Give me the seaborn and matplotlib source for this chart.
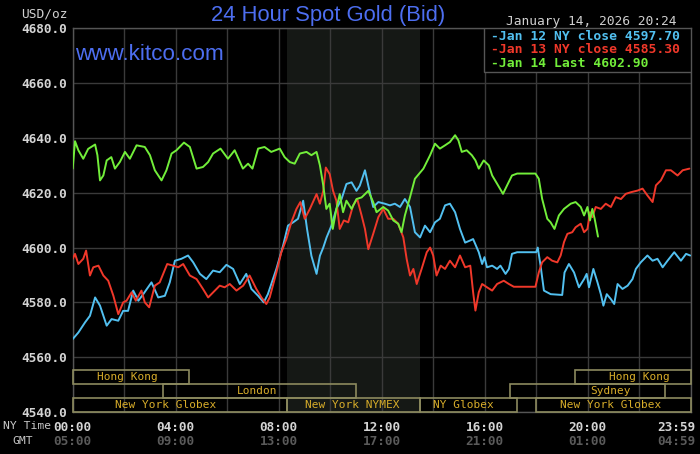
import numpy as np
import pandas as pd
import seaborn as sns
import matplotlib.pyplot as plt
import matplotlib.transforms as mtransforms
from matplotlib.patches import Rectangle

# Jan 12 NY close series (hours in NY time, price USD/oz)
jan12_hours = [0, 0.22, 0.48, 0.67, 0.87, 1.06, 1.32, 1.51, 1.77, 1.96, 2.15, 2.35, 2.55, 2.74,
               3.06, 3.32, 3.58, 3.77, 3.97, 4.22, 4.48, 4.68, 4.94, 5.19, 5.45, 5.71, 5.97, 6.23,
               6.49, 6.74, 6.94, 7.2, 7.42, 7.58, 7.91, 8.17, 8.36, 8.56, 8.75, 8.95, 9.1, 9.27,
               9.47, 9.6, 9.73, 9.86, 10.05, 10.24, 10.44, 10.63, 10.83, 11.02, 11.15, 11.35,
               11.48, 11.67, 11.87, 12.12, 12.32, 12.51, 12.71, 12.9, 13.1, 13.29, 13.49, 13.68,
               13.88, 14.07, 14.26, 14.46, 14.65, 14.85, 15.04, 15.24, 15.44, 15.55, 15.77, 15.9,
               15.99, 16.09, 16.29, 16.48, 16.61, 16.81, 16.94, 17.06, 17.26, 18.0, 18.06, 18.17,
               18.3, 18.56, 19.01, 19.1, 19.27, 19.47, 19.66, 19.86, 19.96, 20.05, 20.22, 20.38,
               20.51, 20.61, 20.74, 20.9, 21.03, 21.16, 21.35, 21.55, 21.74, 21.87, 22.06, 22.32,
               22.52, 22.71, 22.91, 23.1, 23.36, 23.62, 23.82, 23.98]
jan12_price = [4566.6, 4569.0, 4572.7, 4575.1, 4581.8, 4578.8, 4571.5, 4573.9, 4573.3, 4576.9,
               4576.9, 4584.3, 4580.6, 4583.0, 4587.3, 4581.8, 4582.4, 4587.3, 4595.2, 4595.9,
               4597.1, 4594.6, 4590.4, 4588.5, 4591.6, 4591.0, 4593.7, 4592.2, 4586.7, 4590.4,
               4584.9, 4582.4, 4580.0, 4583.0, 4592.2, 4600.7, 4608.0, 4609.2, 4610.5, 4617.1,
               4606.8, 4597.0, 4590.4, 4597.0, 4600.0, 4603.7, 4608.0, 4614.1, 4617.7, 4623.2,
               4623.8, 4620.7, 4622.6, 4628.2, 4622.6, 4614.8, 4616.6, 4616.0, 4615.4, 4616.0,
               4614.8, 4617.7, 4614.8, 4605.6, 4603.7, 4608.0, 4605.6, 4609.2, 4610.5, 4615.4,
               4616.0, 4612.9, 4606.8, 4601.8, 4602.6, 4603.1, 4598.3, 4594.0, 4596.5, 4592.8,
               4593.4, 4592.2, 4593.4, 4590.4, 4592.2, 4597.7, 4598.3, 4598.3, 4600.0, 4593.4,
               4584.3, 4583.0, 4582.7, 4590.9, 4594.0, 4590.9, 4585.5, 4588.5, 4590.4, 4585.5,
               4592.2, 4587.3, 4583.0, 4578.8, 4583.0, 4581.2, 4579.4, 4586.7, 4584.9, 4586.1,
               4588.5, 4592.2, 4594.6, 4597.1, 4595.2, 4595.9, 4592.8, 4595.2, 4598.3, 4595.2,
               4597.7, 4597.1]

# Jan 13 NY close series
jan13_hours = [0, 0.09, 0.22, 0.41, 0.52, 0.67, 0.8, 1.0, 1.19, 1.38, 1.58, 1.77, 1.96, 2.09,
               2.29, 2.45, 2.67, 2.8, 2.97, 3.19, 3.38, 3.67, 3.9, 4.1, 4.29, 4.55, 4.81, 5.06,
               5.26, 5.52, 5.71, 5.9, 6.1, 6.36, 6.62, 6.87, 7.13, 7.33, 7.52, 7.65, 7.91, 8.1,
               8.3, 8.49, 8.69, 8.84, 9.01, 9.21, 9.47, 9.6, 9.73, 9.83, 9.98, 10.11, 10.24,
               10.37, 10.53, 10.7, 10.89, 11.05, 11.22, 11.35, 11.48, 11.67, 11.87, 12.06, 12.25,
               12.45, 12.64, 12.84, 12.97, 13.1, 13.23, 13.36, 13.55, 13.75, 13.88, 14.0, 14.13,
               14.29, 14.46, 14.65, 14.85, 15.04, 15.24, 15.44, 15.55, 15.64, 15.77, 15.9, 16.09,
               16.29, 16.48, 16.74, 16.94, 17.13, 17.97, 18.1, 18.23, 18.43, 18.62, 18.82, 18.95,
               19.08, 19.21, 19.4, 19.53, 19.73, 19.86, 19.99, 20.09, 20.18, 20.31, 20.51, 20.7,
               20.9, 21.09, 21.29, 21.48, 21.68, 21.94, 22.13, 22.32, 22.52, 22.65, 22.84, 23.04,
               23.23, 23.49, 23.69, 23.95]
jan13_price = [4595.9, 4597.7, 4594.0, 4595.9, 4598.9, 4589.8, 4592.8, 4593.4, 4589.8, 4587.9,
               4582.4, 4575.7, 4580.0, 4580.6, 4583.7, 4580.6, 4584.3, 4580.0, 4578.2, 4586.1,
               4587.3, 4594.0, 4593.4, 4592.8, 4594.0, 4589.8, 4588.5, 4584.9, 4581.8, 4584.3,
               4586.1, 4585.5, 4586.7, 4584.3, 4586.1, 4589.8, 4584.9, 4581.8, 4579.4, 4581.8,
               4590.9, 4598.2, 4603.1, 4609.2, 4614.1, 4616.6, 4610.5, 4614.1, 4619.5, 4616.0,
               4620.7, 4629.2, 4626.8, 4620.7, 4617.1, 4606.8, 4609.9, 4609.2, 4615.4, 4617.7,
               4611.7, 4606.8, 4599.4, 4605.0, 4611.1, 4614.1, 4610.5, 4610.5, 4608.7, 4603.7,
               4595.8, 4589.8, 4592.2, 4586.7, 4592.2, 4598.3, 4600.0, 4597.1, 4589.8, 4593.4,
               4592.2, 4595.2, 4592.8, 4597.1, 4592.8, 4593.4, 4583.7, 4577.0, 4583.7, 4586.7,
               4585.5, 4584.3, 4586.7, 4587.9, 4586.7, 4585.7, 4585.7, 4590.9, 4594.6, 4596.5,
               4595.2, 4594.6, 4597.1, 4602.0, 4605.0, 4605.6, 4607.4, 4608.7, 4605.6, 4606.8,
               4612.9, 4611.1, 4614.8, 4614.1, 4616.0, 4614.8, 4618.4, 4617.7, 4619.6, 4620.2,
               4620.8, 4621.5, 4619.0, 4616.6, 4622.7, 4624.5, 4628.2, 4628.2, 4626.3, 4628.2,
               4628.8]

# Jan 14 live series
jan14_hours = [0, 0.09, 0.22, 0.41, 0.6, 0.87, 0.96, 1.06, 1.19, 1.32, 1.5, 1.64, 1.83, 2.03,
               2.22, 2.48, 2.8, 3.0, 3.19, 3.45, 3.64, 3.84, 4.03, 4.32, 4.55, 4.81, 5.06, 5.26,
               5.45, 5.74, 6.03, 6.29, 6.61, 6.81, 6.98, 7.2, 7.45, 7.71, 8.04, 8.23, 8.43, 8.62,
               8.82, 9.08, 9.27, 9.47, 9.6, 9.73, 9.85, 9.98, 10.1, 10.24, 10.37, 10.5, 10.63,
               10.83, 11.02, 11.22, 11.48, 11.67, 11.8, 12.06, 12.25, 12.45, 12.64, 12.77, 12.9,
               13.1, 13.29, 13.62, 13.88, 14.07, 14.26, 14.46, 14.65, 14.85, 14.98, 15.11, 15.3,
               15.5, 15.64, 15.77, 15.96, 16.16, 16.29, 16.48, 16.71, 16.87, 17.06, 17.26, 17.97,
               18.1, 18.23, 18.43, 18.56, 18.71, 18.88, 19.08, 19.34, 19.53, 19.73, 19.86, 19.99,
               20.09, 20.18, 20.27, 20.4]
jan14_price = [4628.8, 4638.8, 4635.5, 4632.4, 4636.0, 4637.6, 4633.7, 4624.5, 4626.3, 4631.8,
               4633.0, 4628.8, 4631.2, 4634.9, 4632.4, 4637.3, 4636.7, 4633.7, 4628.2, 4624.5,
               4628.2, 4634.3, 4635.5, 4638.3, 4636.7, 4628.8, 4629.4, 4631.2, 4634.3, 4636.1,
               4632.4, 4635.5, 4628.8, 4630.6, 4628.8, 4636.1, 4636.7, 4634.9, 4636.1, 4633.0,
               4631.2, 4630.6, 4634.3, 4634.9, 4633.7, 4634.9, 4630.0, 4622.7, 4614.1, 4616.0,
               4606.8, 4614.1, 4619.5, 4612.9, 4617.1, 4614.1, 4617.7, 4618.3, 4620.7, 4616.6,
               4612.9, 4614.8, 4613.5, 4609.9, 4608.7, 4605.6, 4611.7, 4618.4, 4625.1, 4628.8,
               4633.7, 4637.9, 4636.1, 4637.3, 4638.5, 4641.0, 4639.1, 4634.9, 4635.5, 4633.7,
               4631.8, 4628.8, 4631.8, 4630.0, 4626.3, 4623.3, 4619.6, 4622.7, 4626.3, 4627.0,
               4627.0, 4625.1, 4617.8, 4610.5, 4609.2, 4606.8, 4611.7, 4614.1, 4616.0, 4616.6,
               4614.8, 4611.7, 4614.8, 4609.9, 4614.1, 4610.5, 4604.0]

series_names = ['Jan 12', 'Jan 13', 'Jan 14']
series_colors = ['#52c0f0', '#f0382a', '#72ee3a']
legend_labels = ['Jan 12 NY close 4597.70', 'Jan 13 NY close 4585.30', 'Jan 14 Last 4602.90']

y_ticks = [4540, 4560, 4580, 4600, 4620, 4640, 4660, 4680]
ny_labels = ['00:00', '04:00', '08:00', '12:00', '16:00', '20:00', '23:59']
gmt_labels = ['05:00', '09:00', '13:00', '17:00', '21:00', '01:00', '04:59']
label_hours = [0, 4, 8, 12, 16, 20, 24]

# trading sessions: name, start, end, row (0 = bottom), label centre
session_names = ['Hong Kong', 'London', 'New York Globex', 'New York NYMEX', 'NY Globex',
                 'New York Globex', 'Sydney', 'Hong Kong']
session_start = [0, 3.5, 0, 8 + 20 / 60, 13.5, 18.0, 17.0, 19.5]
session_end = [4.5, 11.0, 8 + 20 / 60, 13.5, 17.25, 24, 23.0, 24]
session_row = [2, 1, 0, 0, 0, 0, 1, 2]
session_label = [2.11, 7.16, 3.62, 10.87, 15.16, 20.9, 20.9, 21.99]
nymex_open, nymex_close = 8 + 20 / 60, 13.5

df = pd.concat([
    pd.DataFrame({'hour': h, 'price': p, 'series': n})
    for h, p, n in zip([jan12_hours, jan13_hours, jan14_hours],
                       [jan12_price, jan13_price, jan14_price], series_names)
])

sns.set_style('dark', {'axes.facecolor': '#000000', 'figure.facecolor': '#000000',
                       'axes.edgecolor': '#555555', 'grid.color': '#3a3a3a'})
plt.rcParams['font.family'] = ['DejaVu Sans Mono']

fig = plt.figure(figsize=(7, 4.54), dpi=100)
ax = fig.add_axes([72.7 / 700, 42 / 454, 618 / 700, 383.7 / 454])

ax.axvspan(nymex_open, nymex_close, color='#151815', zorder=0, lw=0)
sns.lineplot(data=df, x='hour', y='price', hue='series', palette=dict(zip(series_names, series_colors)),
             estimator=None, sort=False, legend=False, linewidth=1.4, ax=ax, zorder=3)

ax.set_xlim(0, 24)
ax.set_ylim(4540, 4680)
ax.set_xticks(range(0, 25, 2))
ax.set_xticklabels([ny_labels[label_hours.index(h)] if h in label_hours else '' for h in range(0, 25, 2)])
ax.set_yticks(y_ticks)
ax.set_yticklabels([f'{v:.1f}' for v in y_ticks])
ax.set_xlabel('')
ax.set_ylabel('')
ax.grid(True, color='#3a3a3a', lw=1)
ax.set_axisbelow(True)
ax.tick_params(length=0, colors='#d4d4d4', labelsize=9.2)
ax.tick_params(axis='x', pad=6.5)
ax.tick_params(axis='y', pad=4.3)
for lbl in ax.get_xticklabels() + ax.get_yticklabels():
    lbl.set_fontweight('bold')
last = ax.get_xticklabels()[-1]
last.set_transform(last.get_transform() + mtransforms.ScaledTranslation(-0.145, 0, fig.dpi_scale_trans))
for s in ax.spines.values():
    s.set_color('#555555')
    s.set_linewidth(1)

blend = mtransforms.blended_transform_factory(ax.transData, ax.transAxes)
for h, g in zip(label_hours, gmt_labels):
    dx = -0.145 if h == 24 else 0
    tr = blend + mtransforms.ScaledTranslation(dx, 0, fig.dpi_scale_trans)
    ax.text(h, -0.0756, g, transform=tr, ha='center', va='center', color='#5a5a5a',
            fontsize=9.2, fontweight='bold')

# session boxes along the bottom
row_h = 14 / 383.7
for name, a, b, r, c in zip(session_names, session_start, session_end, session_row, session_label):
    ax.add_patch(Rectangle((a, r * row_h), b - a, row_h, transform=blend, fill=False,
                           edgecolor='#8c8a5e', lw=1.2, zorder=4, clip_on=False))
    ax.text(c, (r + 0.5) * row_h, name, transform=blend, ha='center', va='center',
            color='#d8ad2a', fontsize=8, zorder=5)

# legend box in the top right
ax.add_patch(Rectangle((0.666, 0.887), 0.334, 0.113, transform=ax.transAxes, facecolor='#000000',
                       edgecolor='#555555', lw=1, zorder=6))
for i, (lab, col) in enumerate(zip(legend_labels, series_colors)):
    ax.text(0.6764, [0.979, 0.945, 0.909][i], '-' + lab, transform=ax.transAxes, ha='left',
            va='center', color=col, fontsize=9.4, fontweight='bold', zorder=7)

fig.text(328 / 700, 1 - 15 / 454, '24 Hour Spot Gold (Bid)', ha='center', va='center',
         color='#4d6ef0', fontsize=15.8, family='Liberation Sans')
fig.text(75 / 700, 1 - 60 / 454, 'www.kitco.com', ha='left', va='baseline',
         color='#4d6ef0', fontsize=16.2, family='Liberation Sans')
fig.text(677 / 700, 1 - 21 / 454, 'January 14, 2026 20:24', ha='right', va='center',
         color='#d0d0d0', fontsize=9.3)
fig.text(68 / 700, 1 - 14 / 454, 'USD/oz', ha='right', va='center', color='#d0d0d0', fontsize=9.3)
fig.text(3 / 700, 1 - 426 / 454, 'NY Time', ha='left', va='center', color='#c8c8c8', fontsize=8.2)
fig.text(12 / 700, 1 - 441 / 454, 'GMT', ha='left', va='center', color='#c8c8c8', fontsize=8.2)

fig.savefig('out.png', dpi=100, facecolor='#000000')
